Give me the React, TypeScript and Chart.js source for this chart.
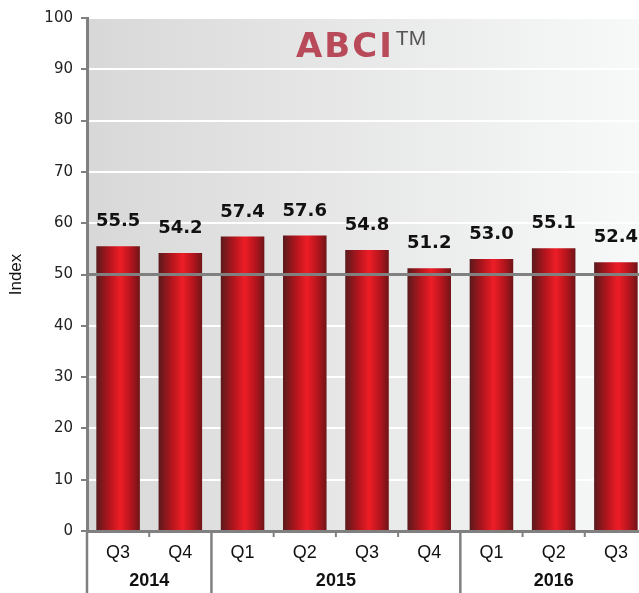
import React, { useEffect, useRef } from "react";
import { Chart, registerables } from "chart.js";

Chart.register(...registerables);

const quarters = ["Q3", "Q4", "Q1", "Q2", "Q3", "Q4", "Q1", "Q2", "Q3"];
const years = ["2014", "2015", "2016"];
const yearSpans = [2, 4, 3];
const values = [55.5, 54.2, 57.4, 57.6, 54.8, 51.2, 53.0, 55.1, 52.4];
const yTicks = [0, 10, 20, 30, 40, 50, 60, 70, 80, 90, 100];
const refLine = 50;

const GRAY = "#808080";

const decoPlugin = {
  id: "deco",
  beforeDraw(chart: any) {
    const { ctx, chartArea: a } = chart;
    if (!a) return;
    ctx.save();
    const g = ctx.createLinearGradient(a.left, 0, a.right, 0);
    g.addColorStop(0, "#d8d8d8");
    g.addColorStop(1, "#f8f9f9");
    ctx.fillStyle = g;
    ctx.fillRect(a.left, a.top, a.right - a.left, a.bottom - a.top);
    ctx.restore();
  },
  afterDatasetsDraw(chart: any) {
    const { ctx, chartArea: a } = chart;
    const ys = chart.scales.y;
    const xs = chart.scales.x;
    ctx.save();
    const y50 = ys.getPixelForValue(refLine);
    ctx.strokeStyle = GRAY;
    ctx.lineWidth = 3;
    ctx.beginPath();
    ctx.moveTo(a.left, y50);
    ctx.lineTo(a.right, y50);
    ctx.stroke();

    const meta = chart.getDatasetMeta(0);
    ctx.fillStyle = "#111";
    ctx.font = "bold 18px 'DejaVu Sans'";
    ctx.textAlign = "center";
    ctx.textBaseline = "alphabetic";
    meta.data.forEach((bar: any, i: number) => {
      ctx.fillText(values[i].toFixed(1), bar.x, bar.y - 20);
    });

    const n = quarters.length;
    const cw = (xs.right - xs.left) / n;
    const bottom = a.bottom;
    const groupBounds = [0];
    let acc = 0;
    yearSpans.forEach((s) => {
      acc += s;
      groupBounds.push(acc);
    });
    ctx.strokeStyle = GRAY;
    for (let i = 0; i <= n; i++) {
      const x = xs.left + i * cw;
      ctx.beginPath();
      if (groupBounds.includes(i)) {
        ctx.lineWidth = 2.5;
        ctx.moveTo(x, bottom);
        ctx.lineTo(x, chart.height);
      } else {
        ctx.lineWidth = 2;
        ctx.moveTo(x, bottom);
        ctx.lineTo(x, bottom + 6);
      }
      ctx.stroke();
    }
    ctx.fillStyle = "#111";
    ctx.font = "18px 'Liberation Sans'";
    ctx.textBaseline = "middle";
    quarters.forEach((q, i) => {
      ctx.fillText(q, xs.getPixelForValue(i), bottom + 22);
    });
    ctx.font = "bold 18px 'Liberation Sans'";
    years.forEach((yr, gi) => {
      const c = xs.left + ((groupBounds[gi] + groupBounds[gi + 1]) / 2) * cw;
      ctx.fillText(yr, c, bottom + 50);
    });

    const tx = a.left + 209;
    ctx.textAlign = "left";
    ctx.textBaseline = "alphabetic";
    ctx.fillStyle = "#b84a5a";
    ctx.font = "bold 34px 'DejaVu Sans'";
    (ctx as any).letterSpacing = "2px";
    ctx.fillText("ABCI", tx, 57);
    const w = ctx.measureText("ABCI").width;
    (ctx as any).letterSpacing = "0px";
    ctx.fillStyle = "#555";
    ctx.font = "21px 'Liberation Sans'";
    ctx.fillText("TM", tx + w + 2, 45);
    ctx.restore();
  },
};

export default function App() {
  const ref = useRef<HTMLCanvasElement>(null);
  useEffect(() => {
    document.body.style.margin = "0";
    const chart = new Chart(ref.current!, {
      type: "bar",
      data: {
        labels: quarters,
        datasets: [
          {
            data: values,
            categoryPercentage: 1,
            barPercentage: 0.7,
            backgroundColor: (c: any) => {
              const ch = c.chart;
              const xs = ch.scales.x;
              if (!ch.chartArea || !xs || c.dataIndex === undefined) return "#c0161c";
              const cw = (xs.right - xs.left) / quarters.length;
              const w = cw * 0.7;
              const cx = xs.getPixelForValue(c.dataIndex);
              const g = ch.ctx.createLinearGradient(cx - w / 2, 0, cx + w / 2, 0);
              g.addColorStop(0, "#5a1a1c");
              g.addColorStop(0.3, "#b3151d");
              g.addColorStop(0.55, "#ee1d26");
              g.addColorStop(0.8, "#b3151d");
              g.addColorStop(1, "#6e1518");
              return g;
            },
            borderWidth: 0,
          },
        ],
      },
      options: {
        animation: false,
        responsive: false,
        maintainAspectRatio: false,
        layout: { padding: { top: 18, left: 0, right: 0, bottom: 0 } },
        plugins: { legend: { display: false }, tooltip: { enabled: false } },
        scales: {
          x: {
            ticks: { display: false },
            grid: { display: false, drawTicks: false },
            border: { display: true, color: GRAY, width: 3 },
            afterFit: (s: any) => {
              s.height = 62;
            },
          },
          y: {
            min: 0,
            max: 100,
            afterBuildTicks: (s: any) => {
              s.ticks = yTicks.map((v) => ({ value: v }));
            },
            ticks: {
              color: "#222",
              font: { family: "'DejaVu Sans'", size: 15 },
              padding: 8,
            },
            grid: {
              color: "#ffffff",
              lineWidth: 2,
              tickColor: GRAY,
              tickLength: 6,
              drawTicks: true,
            },
            border: { display: true, color: GRAY, width: 3 },
            title: {
              display: true,
              text: "Index",
              color: "#111",
              font: { family: "'Liberation Sans'", size: 17 },
              padding: { top: 6, bottom: 0 },
            },
            afterFit: (s: any) => {
              s.width = 87;
            },
          },
        },
      },
      plugins: [decoPlugin],
    });
    return () => chart.destroy();
  }, []);
  return (
    <div style={{ width: 639, height: 593, overflow: "hidden", position: "relative" }}>
      <canvas ref={ref} width={647} height={593} style={{ display: "block" }} />
    </div>
  );
}
